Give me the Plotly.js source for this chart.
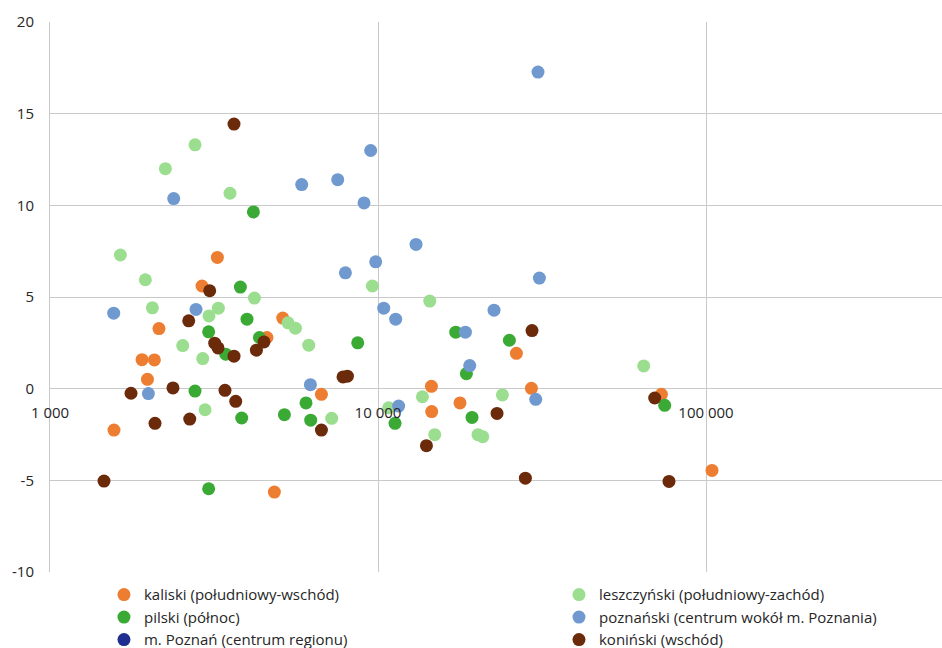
<!DOCTYPE html>
<html>
<head>
<meta charset="utf-8">
<script src="https://cdn.plot.ly/plotly-3.0.1.min.js"></script>
<style>html,body{margin:0;padding:0;background:#fff;}#chart{width:942px;height:648px;}</style>
</head>
<body>
<div id="chart"></div>
<script>
// Series names
const seriesNames = ["kaliski (południowy-wschód)", "leszczyński (południowy-zachód)", "pilski (północ)",
  "poznański (centrum wokół m. Poznania)", "m. Poznań (centrum regionu)", "koniński (wschód)"];

// kaliski
const kaliskiX = [1567, 1908, 2081, 1982, 2149, 2907, 3238, 4587, 4832, 5123, 6722, 14550, 14580, 17780, 26420, 29360, 73110, 104300];
const kaliskiY = [-2.26, 1.58, 1.57, 0.51, 3.28, 5.60, 7.16, 2.79, -5.64, 3.85, -0.31, 0.13, -1.25, -0.78, 1.93, 0.02, -0.31, -4.46];

// leszczyński
const leszczynskiX = [1639, 1953, 2052, 2248, 2539, 2768, 2922, 2970, 3053, 3261, 3538, 4200, 5317, 5601, 6149, 7225, 9614, 10780, 13660, 14380, 14890, 20180, 20860, 23950, 64580];
const leszczynskiY = [7.29, 5.94, 4.41, 12.0, 2.35, 13.3, 1.64, -1.15, 3.97, 4.39, 10.66, 4.94, 3.59, 3.30, 2.37, -1.62, 5.60, -1.04, -0.44, 4.78, -2.51, -2.51, -2.62, -0.34, 1.24];

// pilski
const pilskiX = [2768, 3046, 3046, 3434, 3806, 3841, 3987, 4170, 4350, 5184, 6033, 6235, 8673, 11270, 17260, 18600, 19350, 25150, 74830];
const pilskiY = [-0.13, 3.10, -5.46, 1.88, 5.54, -1.60, 3.79, 9.64, 2.79, -1.42, -0.78, -1.72, 2.50, -1.89, 3.08, 0.82, -1.57, 2.64, -0.91];

// poznański
const poznanskiX = [1564, 1995, 2383, 2787, 5853, 6222, 7537, 7955, 9065, 9500, 9840, 10410, 11320, 11560, 13060, 18470, 19040, 22580, 30260, 30750, 31050];
const poznanskiY = [4.12, -0.27, 10.37, 4.32, 11.13, 0.22, 11.40, 6.32, 10.13, 12.99, 6.92, 4.39, 3.79, -0.95, 7.87, 3.08, 1.26, 4.28, -0.58, 17.27, 6.03];

// m. Poznań (no point visible in the chart area)
const poznanX = [null];
const poznanY = [null];

// koniński
const koninskiX = [1461, 1766, 2090, 2371, 2648, 2667, 3068, 3178, 3253, 3416, 3639, 3639, 3683, 4259, 4491, 6722, 7823, 8067, 14050, 23060, 28140, 29480, 69760, 77120];
const koninskiY = [-5.04, -0.25, -1.89, 0.04, 3.70, -1.66, 5.34, 2.48, 2.22, -0.09, 14.43, 1.77, -0.69, 2.10, 2.55, -2.26, 0.64, 0.68, -3.11, -1.35, -4.88, 3.17, -0.51, -5.06];

// tick labels
const xTickVals = [1000, 10000, 100000];
const xTickText = ["1 000", "10 000", "100 000"];
const yTickVals = [-10, -5, 0, 5, 10, 15, 20];
const yTickText = ["-10", "-5", "0", "5", "10", "15", "20"];

const colors = ["#ED7D31", "#9BDE8F", "#3AAA35", "#7099D0", "#1F2F8F", "#6B2A0A"];
const legendOf = ["legend", "legend2", "legend", "legend2", "legend", "legend2"];
const xs = [kaliskiX, leszczynskiX, pilskiX, poznanskiX, poznanX, koninskiX];
const ys = [kaliskiY, leszczynskiY, pilskiY, poznanskiY, poznanY, koninskiY];

const traces = seriesNames.map((n, i) => ({
  type: "scatter", mode: "markers", name: n,
  x: xs[i], y: ys[i], legend: legendOf[i],
  marker: {color: colors[i], size: 13, line: {width: 0}}
}));

const gridCol = "#C9C9C9";
const font = {family: "Open Sans, sans-serif", size: 15, color: "#262626"};
const legFont = {family: "Open Sans, sans-serif", size: 15, color: "#262626"};

const layout = {
  width: 942, height: 648,
  margin: {l: 50, r: 0, t: 22, b: 76, pad: 0, autoexpand: false},
  paper_bgcolor: "#fff", plot_bgcolor: "#fff",
  font: font,
  showlegend: true,
  xaxis: {
    type: "log", range: [3, 3 + 892 / 328],
    tickvals: xTickVals, ticktext: xTickText,
    showgrid: true, gridcolor: gridCol, gridwidth: 1,
    zeroline: false, showline: false,
    anchor: "free", position: 1 / 3,
    ticks: "outside", ticklen: 10, tickcolor: "rgba(0,0,0,0)",
    tickfont: font, fixedrange: true
  },
  yaxis: {
    range: [-10, 20], tickvals: yTickVals, ticktext: yTickText,
    showgrid: true, gridcolor: gridCol, gridwidth: 1,
    zeroline: true, zerolinecolor: gridCol, zerolinewidth: 1,
    showline: true, linecolor: gridCol, linewidth: 1,
    ticks: "outside", ticklen: 12, tickcolor: "rgba(0,0,0,0)",
    tickfont: font, fixedrange: true
  },
  legend: {
    orientation: "v", x: 0.0605, xanchor: "left", y: -0.0115, yanchor: "top",
    font: legFont, tracegroupgap: 0, bgcolor: "rgba(0,0,0,0)"
  },
  legend2: {
    orientation: "v", x: 0.5706, xanchor: "left", y: -0.0115, yanchor: "top",
    font: legFont, tracegroupgap: 0, bgcolor: "rgba(0,0,0,0)"
  }
};

Plotly.newPlot("chart", traces, layout, {displayModeBar: false, staticPlot: true});
</script>
</body>
</html>
